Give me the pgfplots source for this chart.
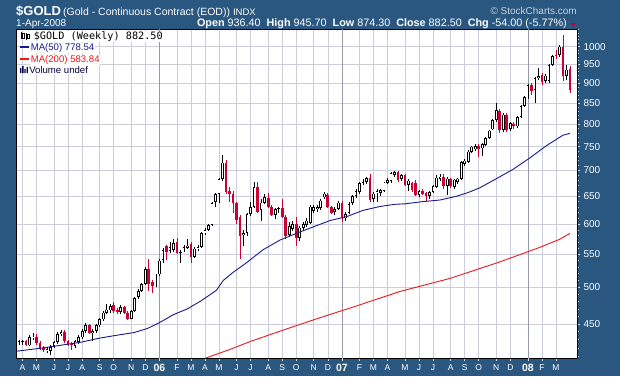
\documentclass[border=0pt]{standalone}
\usepackage{pgfplots}
\pgfplotsset{compat=1.18}
\usepackage{pgfplotstable}
\usepackage{fontspec}
\setmainfont{Liberation Sans}
\newfontfamily\monof{DejaVu Sans Mono}
\definecolor{framec}{RGB}{42,87,128}
\definecolor{gridc}{RGB}{204,204,218}
\definecolor{yeargrid}{RGB}{150,150,172}
\definecolor{candred}{RGB}{204,0,51}
\definecolor{ma50c}{RGB}{25,25,140}
\definecolor{ma200c}{RGB}{235,25,25}
\definecolor{ticc}{RGB}{210,218,230}
\definecolor{scc}{RGB}{200,210,222}

\pgfplotstableread{
k o h l c
0 427 430 424 428
1 427 430 424 428
3 423 436 422 433
4 432 438 430 434
8 417 421 414 419
9 416 423 411 421
10 422 429 420 427
11 427 440 425 437
12 437 442 435 440
16 422 430 420 428
17 427 436 425 433
18 433 443 431 441
19 441 451 439 448
21 439 443 428 441
22 441 450 439 448
23 448 458 446 456
24 456 467 454 465
25 465 477 463 469
26 468 476 464 474
29 466 475 463 472
32 457 469 456 467
33 467 487 466 485
34 486 497 484 495
35 495 507 493 505
36 505 530 503 527
39 503 519 501 517
40 519 542 517 540
41 541 560 537 557
43 555 570 552 562
44 557 575 553 568
46 552 556 537 554
47 556 565 553 561
48 560 575 558 564
50 546 561 544 559
51 559 565 555 562
52 562 587 560 584
53 584 594 582 590
54 590 600 588 598
55 598 640 596 637
56 640 656 630 654
57 655 686 638 683
58 683 733 680 716
64 582 590 563 585
65 585 620 580 618
66 618 640 614 630
67 630 677 628 668
69 625 645 606 638
70 638 655 635 648
73 616 629 609 627
74 626 630 620 628
77 582 603 578 596
78 592 606 588 600
80 576 597 572 594
81 594 603 588 600
82 598 610 595 606
83 602 634 600 631
84 623 633 620 630
85 626 633 622 630
86 628 645 625 642
87 648 658 645 655
90 621 630 615 626
91 627 642 625 638
93 610 621 606 618
94 620 639 617 636
95 637 652 634 650
96 650 664 647 660
97 658 678 655 675
98 676 684 672 678
99 678 688 674 685
101 645 658 640 655
102 656 663 640 659
103 656 664 650 661
104 660 678 658 676
105 676 685 673 681
106 679 697 676 694
107 691 700 688 697
109 683 693 680 690
111 672 684 660 680
114 652 662 648 660
117 651 660 645 658
118 658 671 656 669
119 668 690 665 686
120 684 692 680 688
122 669 687 653 684
124 668 684 664 682
125 678 686 674 684
126 684 720 681 717
127 714 724 710 720
128 718 742 716 739
129 739 752 736 750
130 744 755 740 751
132 746 758 730 756
133 754 771 752 769
134 769 787 767 785
135 788 812 786 810
136 809 850 805 833
138 786 826 782 822
140 789 806 785 802
142 795 819 792 816
143 816 846 813 843
144 843 868 840 865
145 864 898 860 895
147 882 916 850 913
148 913 940 908 918
150 906 925 900 920
151 906 952 900 948
152 949 975 945 973
154 976 1005 970 1000
156 920 949 909 936
}\upc

\pgfplotstableread{
k o h l c
2 428 430 422 424
5 434 437 424 426
6 426 428 417 419
7 420 422 415 417
13 440 442 426 428
14 428 430 422 424
15 425 427 417 423
20 448 450 437 439
27 475 480 465 467
28 468 471 463 466
30 472 474 463 465
31 465 467 455 457
37 527 542 495 505
38 508 510 492 502
42 563 565 541 553
45 570 576 550 552
49 566 570 537 545
59 716 722 655 658
60 660 668 640 655
61 655 660 619 637
62 638 640 600 607
63 612 615 543 580
68 668 677 620 622
71 646 657 628 631
72 630 633 614 616
75 628 644 611 613
76 613 615 575 580
79 600 612 563 576
88 652 656 628 631
89 630 632 617 620
92 638 642 603 610
100 685 693 640 643
108 697 700 678 682
110 690 693 669 672
112 676 678 658 662
113 676 681 650 652
115 660 663 652 655
116 656 658 642 651
121 688 692 664 669
123 684 686 666 670
131 751 755 727 744
137 831 835 780 786
139 821 825 782 786
141 800 805 790 795
146 896 900 870 880
149 922 926 896 903
153 976 990 965 973
155 1000 1033 906 918
157 936.4 945.7 874.3 882.5
}\dnc

\begin{document}
\begin{tikzpicture}
\fill[framec] (0pt,0pt) rectangle (620pt,376pt);
\begin{axis}[
  at={(16pt,18pt)}, anchor=south west, scale only axis,
  width=561pt, height=329pt,
  xmin=-0.85, xmax=159,
  ymode=log, ymin=408, ymax=1052,
  axis background/.style={fill=white},
  axis line style={black, line width=0.8pt},
  xtick={1,5,10,14,18,23,27,32,36,45,49,53,57,62,66,71,75,79,84,88,97,101,105,110,114,118,123,127,131,136,140,149,153},
  xticklabels={A,M,J,J,A,S,O,N,D,F,M,A,M,J,J,A,S,O,N,D,F,M,A,M,J,J,A,S,O,N,D,F,M},
  extra x ticks={40,92,145},
  extra x tick labels={06,07,08},
  extra x tick style={grid=major, major grid style={yeargrid, line width=0.6pt},
    xticklabel style={font=\bfseries\fontsize{10.5}{12}\selectfont}},
  xmajorgrids, ymajorgrids,
  major grid style={gridc, line width=0.6pt},
  ytick={450,500,550,600,650,700,750,800,850,900,950,1000},
  yticklabels={450,500,550,600,650,700,750,800,850,900,950,1000},
  minor ytick={410,420,430,440,460,470,480,490,510,520,530,540,560,570,580,590,610,620,630,640,660,670,680,690,710,720,730,740,760,770,780,790,810,820,830,840,860,870,880,890,910,920,930,940,960,970,980,990,1010,1020,1030,1040,1050},
  ytick pos=right, yticklabel pos=right, xtick pos=bottom,
  tick align=outside,
  major tick length=3pt, minor tick length=1.5pt,
  tick style={ticc, line width=0.6pt},
  xticklabel style={white, font=\fontsize{8.5}{10}\selectfont},
  yticklabel style={white, font=\fontsize{10}{12}\selectfont},
]
% up candles: wicks, black body, white interior
\addplot[draw=none, mark=none, forget plot, error bars/.cd, y dir=plus, y explicit, error mark=none,
  error bar style={draw=black, line width=0.7pt}]
  table[x=k, y=l, y error plus expr=\thisrow{h}-\thisrow{l}] {\upc};
\addplot[draw=none, mark=none, forget plot, error bars/.cd, y dir=plus, y explicit, error mark=none,
  error bar style={draw=black, line width=2.7pt}]
  table[x=k, y=o, y error plus expr=\thisrow{c}-\thisrow{o}] {\upc};
\addplot[draw=none, mark=none, forget plot, error bars/.cd, y dir=plus, y explicit, error mark=none,
  error bar style={draw=white, line width=1.1pt}]
  table[x=k, y expr=\thisrow{o}*1.0022, y error plus expr={max(\thisrow{c}/1.0022-\thisrow{o}*1.0022,0)}] {\upc};
% down candles
\addplot[draw=none, mark=none, forget plot, error bars/.cd, y dir=plus, y explicit, error mark=none,
  error bar style={draw=candred, line width=0.7pt}]
  table[x=k, y=l, y error plus expr=\thisrow{h}-\thisrow{l}] {\dnc};
\addplot[draw=none, mark=none, forget plot, error bars/.cd, y dir=plus, y explicit, error mark=none,
  error bar style={draw=candred, line width=2.7pt}]
  table[x=k, y=c, y error plus expr=\thisrow{o}-\thisrow{c}] {\dnc};
% MA(50)
\addplot[ma50c, line width=0.9pt, mark=none] coordinates {
(-0.8,416) (5,419) (10,422) (17.7,427) (23,432) (27,435) (32.8,439) (36.5,444)
(39.3,450) (41.3,455) (43.9,462) (48,470) (51.9,481) (56.3,496) (58.2,510)
(61,522) (64.9,537) (69.5,557) (74.4,573) (79,584) (83.8,595) (88.6,606)
(93.4,613) (98,624) (102.8,631) (107,635) (110,636) (115,640) (120,643)
(124.7,650) (128,657) (131.3,666) (136.1,684) (140.7,702) (145.6,726)
(150.3,752) (155,775) (157,779)};
% MA(200)
\addplot[ma200c, line width=0.9pt, mark=none] coordinates {
(52,405) (53.3,408) (60,418) (66,428) (75.2,442) (85,457) (94.3,471) (108.5,494)
(122.8,513) (137,538) (148.4,561) (154,574) (157,584)};
\end{axis}
% header
\node[anchor=base west, inner sep=0, white] at (16pt,361pt) {\fontsize{13}{15}\selectfont\bfseries \$GOLD};
\node[anchor=base west, inner sep=0, white] at (63pt,361pt) {\fontsize{10.5}{13}\selectfont (Gold - Continuous Contract (EOD)) {\fontsize{9.5}{12}\selectfont INDX}};
\node[anchor=base east, inner sep=0, scc] at (577pt,362pt) {\fontsize{10}{12}\selectfont \textcopyright\ StockCharts.com};
\node[anchor=base west, inner sep=0, white] at (16pt,349.3pt) {\fontsize{10}{12}\selectfont 1-Apr-2008};
\node[anchor=base east, inner sep=0, white] at (567pt,349.3pt) {\fontsize{10.8}{12}\selectfont \textbf{Open} 936.40 \ \textbf{High} 945.70 \ \textbf{Low} 874.30 \ \textbf{Close} 882.50 \ \textbf{Chg} -54.00 (-5.77\%)};
\fill[candred] (569.5pt,353pt) -- (576.5pt,353pt) -- (573pt,349.5pt) -- cycle;
% legend
\fill[black] (20.5pt,337pt) rectangle (21.3pt,344pt);
\draw[black, line width=0.5pt] (22.3pt,337.5pt) rectangle (24.3pt,342.5pt);
\fill[black] (25.5pt,336pt) rectangle (26.3pt,343pt);
\draw[black, line width=0.5pt] (27.3pt,338pt) rectangle (29pt,341.5pt);
\node[anchor=base west, inner sep=0.6pt, fill=white] at (33pt,336.5pt) {\monof\fontsize{10.2}{12}\selectfont \$GOLD (Weekly) 882.50};
\draw[ma50c, line width=1.4pt] (20pt,329pt) -- (29pt,329pt);
\node[anchor=base west, inner sep=0.6pt, fill=white, text=ma50c] at (30pt,325.5pt) {\fontsize{9.6}{12}\selectfont MA(50) 778.54};
\draw[ma200c, line width=1.4pt] (20pt,317pt) -- (29pt,317pt);
\node[anchor=base west, inner sep=0.6pt, fill=white, text=ma200c] at (30pt,313.5pt) {\fontsize{9.6}{12}\selectfont MA(200) 583.84};
\fill[black!70!blue] (20pt,303pt) rectangle (21.3pt,308pt) (22.2pt,303pt) rectangle (23.5pt,310pt) (24.4pt,303pt) rectangle (25.7pt,307pt) (26.6pt,303pt) rectangle (27.9pt,309pt);
\node[anchor=base west, inner sep=0.6pt, fill=white, text=black!75!blue] at (28.5pt,303pt) {\fontsize{9.6}{12}\selectfont Volume undef};
\pgfresetboundingbox
\useasboundingbox (0pt,0pt) rectangle (620pt,376pt);
\end{tikzpicture}
\end{document}
